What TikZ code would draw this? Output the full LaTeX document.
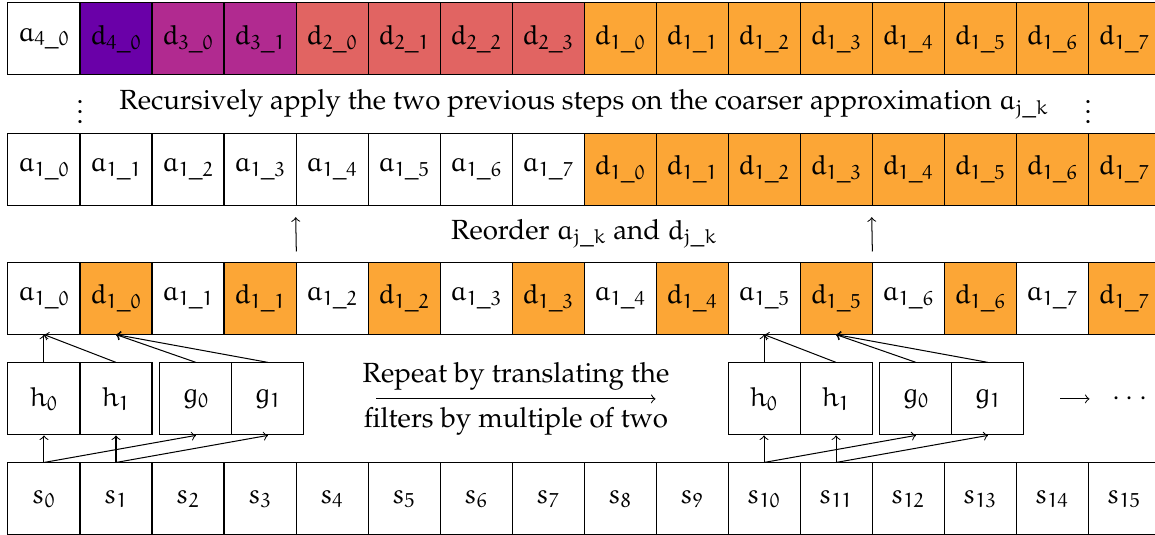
\documentclass[tikz,border=0pt]{standalone}
\usepackage[T1]{fontenc}
\usepackage{mathpazo}
\DeclareMathAlphabet{\eul}{U}{eur}{m}{n}

\definecolor{lvlfour}{HTML}{6A00A8}
\definecolor{lvlthree}{HTML}{B12A90}
\definecolor{lvltwo}{HTML}{E16462}
\definecolor{lvlone}{HTML}{FCA636}

\tikzset{
	cell/.style={draw, minimum size=1cm, inner sep=0pt},
	flt/.style={draw, minimum size=1cm, inner sep=0pt},
}

\begin{document}
\begin{tikzpicture}[font=\fontsize{10.95}{13}\selectfont]
	\useasboundingbox (-0.111,0) rectangle (15.93,7.43);
	% top row: result after all levels
	\node[cell] (t0) at (0.5,6.89) {$\eul{a_{4\_0}}$};
	\node[cell, fill=lvlfour] (t1) at (1.5,6.89) {$\eul{d_{4\_0}}$};
	\foreach \k in {0,1}
		\node[cell, fill=lvlthree] (t\the\numexpr2+\k\relax) at (2.5+\k,6.89) {$\eul{d_{3\_\k}}$};
	\foreach \k in {0,...,3}
		\node[cell, fill=lvltwo] (t\the\numexpr4+\k\relax) at (4.5+\k,6.89) {$\eul{d_{2\_\k}}$};
	\foreach \k in {0,...,7}
		\node[cell, fill=lvlone] (t\the\numexpr8+\k\relax) at (8.5+\k,6.89) {$\eul{d_{1\_\k}}$};

	\node[inner sep=0pt] (dotsl) at (1,5.985) {$\vdots$};
	\node[inner sep=0pt] (dotsr) at (15,5.985) {$\vdots$};
	\node (rec) at (8,5.985) {Recursively apply the two previous steps on the coarser approximation $\eul{a_{j\_k}}$};

	% reordered row
	\foreach \k in {0,...,7} {
		\node[cell] (r\k) at (0.5+\k,5.08) {$\eul{a_{1\_\k}}$};
		\node[cell, fill=lvlone] (r\the\numexpr8+\k\relax) at (8.5+\k,5.08) {$\eul{d_{1\_\k}}$};
	}

	\node (reo) at (8,4.185) {Reorder $\eul{a_{j\_k}}$ and $\eul{d_{j\_k}}$};

	% interleaved row
	\foreach \k in {0,...,7} {
		\node[cell] (m\the\numexpr2*\k\relax) at (0.5+2*\k,3.29) {$\eul{a_{1\_\k}}$};
		\node[cell, fill=lvlone] (m\the\numexpr2*\k+1\relax) at (1.5+2*\k,3.29) {$\eul{d_{1\_\k}}$};
	}

	\draw[->, shorten <=0.14cm, shorten >=0.16cm] (m3.north east) -- (r4.south west);
	\draw[->, shorten <=0.14cm, shorten >=0.16cm] (m11.north east) -- (r12.south west);

	% filters
	\foreach \p/\x in {A/0,B/10} {
		\node[flt] (h\p0) at (\x+0.5,1.89) {$\eul{h_0}$};
		\node[flt] (h\p1) at (\x+1.5,1.89) {$\eul{h_1}$};
		\node[flt] (g\p0) at (\x+2.61,1.89) {$\eul{g_0}$};
		\node[flt] (g\p1) at (\x+3.61,1.89) {$\eul{g_1}$};
	}

	% signal
	\foreach \i in {0,...,15}
		\node[cell] (s\i) at (0.5+\i,0.5) {$\eul{s_{\i}}$};

	\foreach \p/\a/\b in {A/0/1,B/10/11} {
		\draw[->] (s\a.north) -- (h\p0.south);
		\draw[->] (s\a.north) -- (g\p0.south);
		\draw[->] (s\b.north) -- (h\p1.south);
		\draw[->] (s\b.north) -- (g\p1.south);
		\draw[->] (h\p0.north) -- (m\a.south);
		\draw[->] (h\p1.north) -- (m\a.south);
		\draw[->] (g\p0.north) -- (m\b.south);
		\draw[->] (g\p1.north) -- (m\b.south);
	}

	\draw[->] ([xshift=1cm]gA1.east) -- ([xshift=-1cm]hB0.west)
		node[midway, above] {Repeat by translating the}
		node[midway, below] {filters by multiple of two};
	\node (more) at (15.58,1.89) {$\cdots$};
	\draw[->, shorten >=0.19cm] ([xshift=0.5cm]gB1.east) -- (more.west);
\end{tikzpicture}
\end{document}
